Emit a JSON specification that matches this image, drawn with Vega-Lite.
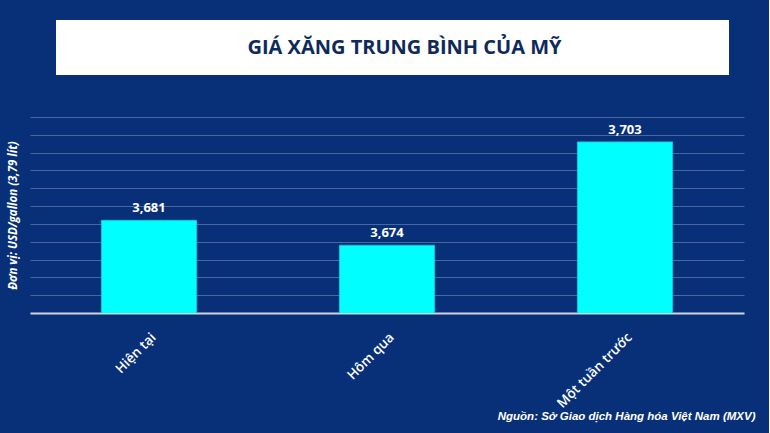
{
  "$schema": "https://vega.github.io/schema/vega-lite/v6.json",
  "background": "#083078",
  "padding": {"left": 7, "top": 20, "right": 14, "bottom": 11},
  "config": {
    "locale": {"number": {"decimal": ",", "thousands": ".", "grouping": [3], "currency": ["", ""]}},
    "font": "Open Sans"
  },
  "center": true,
  "spacing": 42,
  "vconcat": [
    {
      "width": 673,
      "height": 55,
      "view": {"fill": "white", "stroke": null},
      "data": {"values": [{"tieu_de": "GIÁ XĂNG TRUNG BÌNH CỦA MỸ"}]},
      "mark": {"type": "text", "font": "Open Sans", "fontWeight": "bold", "fontSize": 20, "color": "#0e2a5c", "dx": 12},
      "encoding": {"text": {"field": "tieu_de", "type": "nominal"}}
    },
    {
      "width": 714,
      "height": 196,
      "view": {"stroke": null},
      "data": {"values": [
        {"ky": "Hiện tại", "gia": 3.681},
        {"ky": "Hôm qua", "gia": 3.674},
        {"ky": "Một tuần trước", "gia": 3.703}
      ]},
      "encoding": {
        "x": {
          "field": "ky", "type": "nominal", "sort": null,
          "scale": {"paddingInner": 0.6, "paddingOuter": 0.3},
          "axis": {
            "title": "Nguồn: Sở Giao dịch Hàng hóa Việt Nam (MXV)",
            "labelAngle": -45, "labelColor": "white", "labelFontSize": 13.5, "labelPadding": 17,
            "labelFont": "Open Sans", "labelFontWeight": 600,
            "ticks": false, "domainColor": "#d0d4dc", "domainWidth": 2,
            "titleColor": "white", "titleFont": "Liberation Sans", "titleFontSize": 11.5,
            "titleFontStyle": "italic", "titleFontWeight": "bold",
            "titleAnchor": "end", "titleAlign": "right", "titleX": 725, "titleY": 106,
            "titleBaseline": "alphabetic"
          }
        },
        "y": {
          "field": "gia", "type": "quantitative",
          "scale": {"domain": [3.655, 3.71], "zero": false, "nice": false},
          "axis": {
            "title": "Đơn vị: USD/gallon (3,79 lít)",
            "values": [3.66, 3.665, 3.67, 3.675, 3.68, 3.685, 3.69, 3.695, 3.7, 3.705, 3.71],
            "labels": false, "ticks": false, "domain": false,
            "gridColor": "#5570aa", "gridOpacity": 0.85,
            "titleColor": "white", "titleFontSize": 11.5, "titleFontStyle": "italic",
            "titleFontWeight": "bold", "titlePadding": 12, "titleFont": "Open Sans"
          }
        }
      },
      "layer": [
        {"mark": {"type": "bar", "clip": true, "color": "#00ffff", "stroke": "#19c3d6", "strokeWidth": 1}},
        {
          "mark": {"type": "text", "dy": -12, "fontWeight": "bold", "fontSize": 13, "color": "white", "font": "Open Sans"},
          "encoding": {"text": {"field": "gia", "type": "quantitative", "format": ".3f"}}
        }
      ]
    }
  ]
}
